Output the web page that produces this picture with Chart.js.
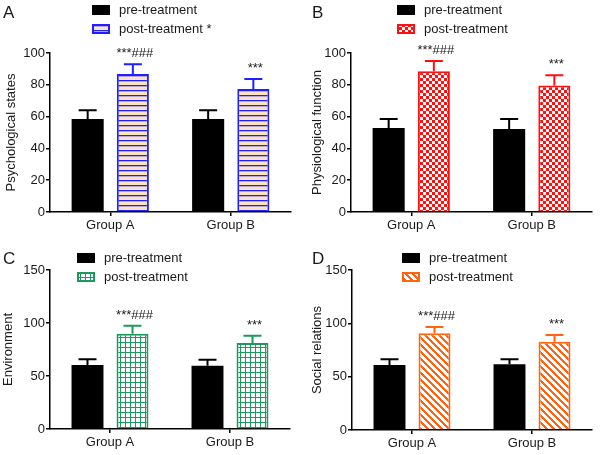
<!DOCTYPE html>
<html>
<head>
<meta charset="utf-8">
<script src="https://cdn.jsdelivr.net/npm/chart.js@4/dist/chart.umd.min.js"></script>
<style>
  body { margin: 0; background: #fff; }
  .panel { position: absolute; }
</style>
</head>
<body>
<div class="panel" style="left:0;top:0;width:300px;height:232px"><canvas id="chartA"></canvas></div>
<div class="panel" style="left:300px;top:0;width:300px;height:232px"><canvas id="chartB"></canvas></div>
<div class="panel" style="left:0;top:232px;width:300px;height:223px"><canvas id="chartC"></canvas></div>
<div class="panel" style="left:300px;top:232px;width:300px;height:223px"><canvas id="chartD"></canvas></div>
<script>
// data (mean and SD)
var groups = ['Group A', 'Group B'];
var postMarks = ['***###', '***'];

var psychPre = [58.5, 58.5];
var psychPreSd = [5.5, 5.5];
var psychPost = [86.8, 77.4];
var psychPostSd = [6.2, 6.2];

var physPre = [52.8, 52.2];
var physPreSd = [5.7, 6.3];
var physPost = [88.5, 79.5];
var physPostSd = [6.5, 6.5];

var envPre = [60.4, 59.7];
var envPreSd = [5.3, 5.7];
var envPost = [89.9, 81.1];
var envPostSd = [7.6, 6.9];

var socPre = [61.0, 61.6];
var socPreSd = [5.3, 4.7];
var socPost = [90.6, 82.8];
var socPostSd = [6.0, 6.2];

var ticks100 = [0, 20, 40, 60, 80, 100];
var ticks150 = [0, 50, 100, 150];

Chart.defaults.font.family = 'Arial, "Liberation Sans", sans-serif';
Chart.defaults.font.size = 13;
Chart.defaults.color = '#1a1a1a';

// fill patterns
function makePattern(kind, color) {
  var c = document.createElement('canvas');
  var g = c.getContext('2d');
  var x, y;
  if (kind === 'hline') {
    c.width = 5; c.height = 5;
    g.fillStyle = '#fbe3bf'; g.fillRect(0, 0, 5, 5);
    g.fillStyle = color; g.fillRect(0, 0, 5, 1.3);
  } else if (kind === 'check') {
    c.width = 6; c.height = 6;
    g.fillStyle = '#ffffff'; g.fillRect(0, 0, 6, 6);
    g.fillStyle = color; g.fillRect(0, 0, 3, 3); g.fillRect(3, 3, 3, 3);
  } else if (kind === 'grid') {
    c.width = 5; c.height = 5;
    g.fillStyle = '#ffffff'; g.fillRect(0, 0, 5, 5);
    g.fillStyle = color; g.fillRect(0, 0, 5, 1); g.fillRect(0, 0, 1, 5);
  } else {
    c.width = 7; c.height = 7;
    g.fillStyle = '#ffffff'; g.fillRect(0, 0, 7, 7);
    g.fillStyle = color;
    for (x = 0; x < 7; x++) {
      for (y = 0; y < 7; y++) {
        if ((x - y + 7) % 7 < 3) g.fillRect(x, y, 1, 1);
      }
    }
  }
  return g.createPattern(c, 'repeat');
}

// error bars + significance marks
var errorBars = {
  id: 'errorBars',
  afterDatasetsDraw: function(chart) {
    var ctx = chart.ctx;
    var yScale = chart.scales.y;
    ctx.save();
    chart.data.datasets.forEach(function(ds, i) {
      var meta = chart.getDatasetMeta(i);
      meta.data.forEach(function(bar, j) {
        var top = yScale.getPixelForValue(ds.data[j] + ds.sd[j]);
        ctx.strokeStyle = ds.borderColor;
        ctx.lineWidth = 2;
        ctx.beginPath();
        ctx.moveTo(bar.x, bar.y);
        ctx.lineTo(bar.x, top);
        ctx.moveTo(bar.x - 9, top);
        ctx.lineTo(bar.x + 9, top);
        ctx.stroke();
        if (ds.marks && ds.marks[j]) {
          ctx.fillStyle = '#1a1a1a';
          ctx.font = '13px Arial, "Liberation Sans", sans-serif';
          ctx.textAlign = 'center';
          ctx.textBaseline = 'alphabetic';
          ctx.fillText(ds.marks[j], bar.x + 2, top - 7);
        }
      });
    });
    ctx.restore();
  }
};

// legend and panel letter drawn at fixed spots
var panelLegend = {
  id: 'panelLegend',
  afterDraw: function(chart) {
    var o = chart.options.plugins.panelLegend;
    var ctx = chart.ctx;
    ctx.save();
    chart.data.datasets.forEach(function(ds, i) {
      var y = o.y + i * 19;
      ctx.fillStyle = ds.backgroundColor;
      ctx.fillRect(o.x, y, 18, 10);
      if (ds.borderWidth) {
        ctx.strokeStyle = ds.borderColor;
        ctx.lineWidth = 2;
        ctx.strokeRect(o.x + 1, y + 1, 16, 8);
      }
      ctx.fillStyle = '#1a1a1a';
      ctx.font = '13px Arial, "Liberation Sans", sans-serif';
      ctx.textBaseline = 'middle';
      ctx.fillText(ds.label, o.x + 27, y + 5);
    });
    ctx.font = '17px Arial, "Liberation Sans", sans-serif';
    ctx.textBaseline = 'alphabetic';
    ctx.fillText(o.letter, o.lx, o.ly);
    ctx.restore();
  }
};

function makeChart(id, p) {
  var config = {
    type: 'bar',
    data: {
      labels: groups,
      datasets: [{
        label: 'pre-treatment',
        data: p.pre,
        sd: p.preSd,
        backgroundColor: '#000000',
        borderColor: '#000000',
        borderWidth: 0,
        categoryPercentage: 0.75,
        barPercentage: 0.71
      }, {
        label: p.postLabel,
        data: p.post,
        sd: p.postSd,
        marks: postMarks,
        backgroundColor: p.fill,
        borderColor: p.color,
        borderWidth: 2,
        categoryPercentage: 0.75,
        barPercentage: 0.71
      }]
    },
    options: {
      responsive: true,
      maintainAspectRatio: false,
      animation: false,
      layout: { padding: { top: p.top, left: 0, right: p.right, bottom: p.bottom } },
      plugins: {
        legend: { display: false },
        tooltip: { enabled: false },
        panelLegend: { x: p.lgX, y: p.lgY, letter: p.letter, lx: p.lx, ly: p.ly }
      },
      scales: {
        x: {
          afterFit: function(s) { s.height = 20; },
          grid: { display: true, drawOnChartArea: false, offset: false, tickLength: 4, color: '#000', lineWidth: 1.5 },
          border: { display: true, color: '#000', width: 1.5 },
          ticks: { padding: 2, font: { size: 13 } }
        },
        y: {
          min: 0,
          max: p.max,
          afterFit: function(s) { s.width = p.axisW; },
          afterBuildTicks: function(s) { s.ticks = p.ticks.map(function(v) { return { value: v }; }); },
          grid: { display: true, drawOnChartArea: false, tickLength: 4, color: '#000', lineWidth: 1.5 },
          border: { display: true, color: '#000', width: 1.5 },
          ticks: { padding: 1, font: { size: 13 } },
          title: { display: true, text: p.title, font: { size: 13 }, padding: { top: p.titlePad, bottom: 0 } }
        }
      }
    },
    plugins: [errorBars, panelLegend]
  };
  return new Chart(document.getElementById(id).getContext('2d'), config);
}

window.onload = function() {
  makeChart('chartA', {
    pre: psychPre, preSd: psychPreSd, post: psychPost, postSd: psychPostSd,
    postLabel: 'post-treatment *', color: '#1f1fff', fill: makePattern('hline', '#1f1fff'),
    max: 100, ticks: ticks100, title: 'Psychological states', titlePad: 4,
    top: 53, right: 9, bottom: 0, axisW: 50,
    lgX: 92, lgY: 5, letter: 'A', lx: 3, ly: 18
  });
  makeChart('chartB', {
    pre: physPre, preSd: physPreSd, post: physPost, postSd: physPostSd,
    postLabel: 'post-treatment', color: '#ff1010', fill: makePattern('check', '#ff1010'),
    max: 100, ticks: ticks100, title: 'Physiological function', titlePad: 10,
    top: 53, right: 8, bottom: 0, axisW: 51,
    lgX: 97, lgY: 5, letter: 'B', lx: 12, ly: 18
  });
  makeChart('chartC', {
    pre: envPre, preSd: envPreSd, post: envPost, postSd: envPostSd,
    postLabel: 'post-treatment', color: '#1b9a5c', fill: makePattern('grid', '#1b9a5c'),
    max: 150, ticks: ticks150, title: 'Environment', titlePad: 1,
    top: 38, right: 10, bottom: 6, axisW: 50,
    lgX: 77, lgY: 21, letter: 'C', lx: 3, ly: 32
  });
  makeChart('chartD', {
    pre: socPre, preSd: socPreSd, post: socPost, postSd: socPostSd,
    postLabel: 'post-treatment', color: '#ff6410', fill: makePattern('diag', '#ff6410'),
    max: 150, ticks: ticks150, title: 'Social relations', titlePad: 10,
    top: 38, right: 8, bottom: 5, axisW: 52,
    lgX: 102, lgY: 21, letter: 'D', lx: 12, ly: 32
  });
};
</script>
</body>
</html>
